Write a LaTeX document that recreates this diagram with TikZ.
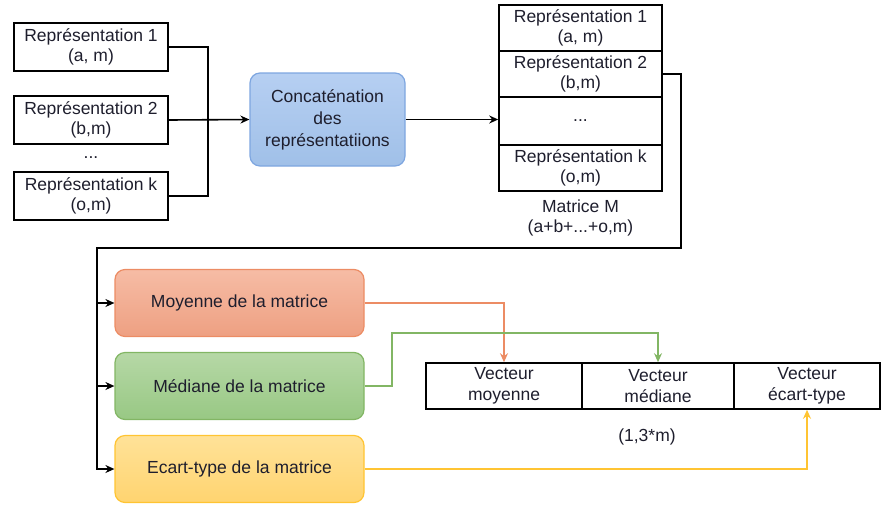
\documentclass[tikz,border=0pt]{standalone}
\usepackage{fontspec}
\setmainfont{Liberation Sans}
\definecolor{txtDark}{RGB}{30,30,45}
\definecolor{concatTop}{RGB}{182,207,242}
\definecolor{concatBot}{RGB}{160,192,232}
\definecolor{concatLine}{RGB}{126,166,224}
\definecolor{moyTop}{RGB}{246,188,165}
\definecolor{moyBot}{RGB}{238,160,130}
\definecolor{moyLine}{RGB}{236,140,100}
\definecolor{medTop}{RGB}{182,216,166}
\definecolor{medBot}{RGB}{152,200,132}
\definecolor{medLine}{RGB}{130,182,100}
\definecolor{ectTop}{RGB}{255,226,152}
\definecolor{ectBot}{RGB}{255,212,112}
\definecolor{ectLine}{RGB}{255,196,50}
\usetikzlibrary{arrows.meta,positioning}

\begin{document}
\begin{tikzpicture}[x=1pt,y=-1pt,
    txt/.style={font=\fontsize{17.5}{20.5}\selectfont, text=txtDark, align=center},
    repr/.style={txt, rectangle, draw=black, line width=1.6pt, inner sep=0pt,
                 minimum width=154pt, minimum height=48pt},
    cell/.style={txt, rectangle, draw=black, line width=1.6pt, inner sep=0pt,
                 minimum height=46pt},
    stat/.style={txt, rectangle, rounded corners=10pt, line width=1.2pt,
                 minimum width=249pt, minimum height=67pt},
    link/.style={-{Stealth[length=9pt,width=8pt]}, line width=1.6pt},
    clink/.style={-{Stealth[length=9pt,width=8pt]}, line width=1.6pt}
  ]
  \useasboundingbox (0,0) rectangle (882,504);

  % representations
  \node[repr] (r1) at (91,47) {Représentation 1\\(a, m)};
  \node[repr] (r2) at (91,120) {Représentation 2\\(b,m)};
  \node[txt] (rdots) at (91,158) {...};
  \node[repr] (rk) at (91,196) {Représentation k\\(o,m)};

  \node[stat, draw=concatLine, top color=concatTop, bottom color=concatBot,
        font=\fontsize{17.5}{22}\selectfont,
        minimum width=155pt, minimum height=93pt] (concat) at (327.5,119.5)
    {Concaténation\\des\\représentatiions};

  % matrice M
  \node[cell, minimum width=163pt] (m1) at (580.5,28) {Représentation 1\\(a, m)};
  \node[cell, minimum width=163pt] (m2) at (580.5,74) {Représentation 2\\(b,m)};
  \node[cell, minimum width=163pt, minimum height=48pt] (m3) at (580.5,121) {...};
  \node[cell, minimum width=163pt] (m4) at (580.5,168) {Représentation k\\(o,m)};
  \node[txt] (mlabel) at (580.5,218) {Matrice M\\(a+b+...+o,m)};

  \coordinate (join) at (208,120);
  \draw[line width=1.6pt] (r1.east) -| (join);
  \draw[line width=1.6pt] (rk.east) -| (join);
  \draw[link] (r2.east) -- (concat.west);
  \draw[link] (concat.east) -- (concat.east -| m3.west);

  % statistiques
  \node[stat, draw=moyLine, top color=moyTop, bottom color=moyBot] (moy) at (239.5,303) {Moyenne de la matrice};
  \node[stat, draw=medLine, top color=medTop, bottom color=medBot] (med) at (239.5,386) {Médiane de la matrice};
  \node[stat, draw=ectLine, top color=ectTop, bottom color=ectBot] (ect) at (239.5,469) {Ecart-type de la matrice};

  \coordinate (corner) at (681,248);
  \coordinate (bus) at (97,248);
  \draw[line width=2.8pt] (m2.east) -| (corner) -- (bus) -- (bus |- med.west);
  \draw[link] (bus |- moy.west) -- (moy.west);
  \draw[link] (bus |- med.west) -- (med.west);
  \draw[link] (bus |- med.west) |- (ect.west);

  % vecteurs
  \node[cell, minimum width=156pt] (vmoy) at (504,386) {Vecteur\\moyenne};
  \node[cell, minimum width=152pt] (vmed) at (658,386) {Vecteur\\médiane};
  \node[cell, minimum width=146pt] (vect) at (807,386) {Vecteur\\écart-type};
  \node[txt] (vlabel) at (647,437) {(1,3*m)};

  \coordinate (medturn) at (392,333);
  \draw[clink, moyLine] (moy.east) -| (vmoy.north);
  \draw[clink, medLine] (med.east) -| (medturn) -| (vmed.north);
  \draw[clink, ectLine] (ect.east) -| (vect.south);
\end{tikzpicture}
\end{document}
